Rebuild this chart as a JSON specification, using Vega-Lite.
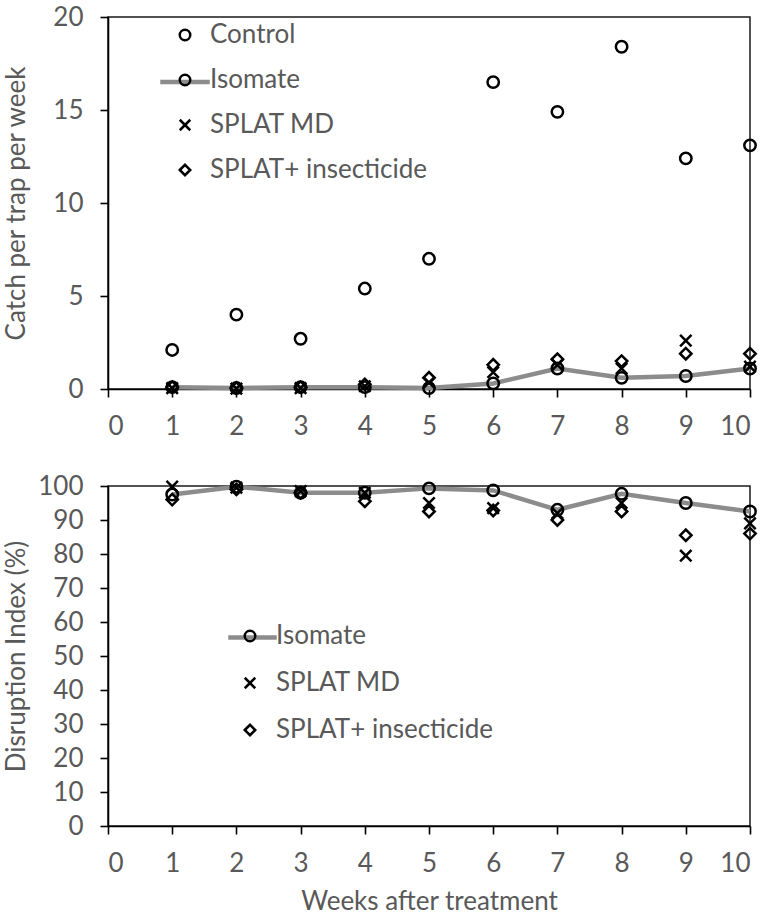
{
  "$schema": "https://vega.github.io/schema/vega-lite/v6.json",
  "background": "white",
  "padding": {"left": 2, "top": 3, "right": 0, "bottom": 0},
  "config": {
    "font": "Lato",
    "view": {"stroke": "#1a1a1a", "strokeWidth": 1.5},
    "axis": {"domainColor": "#000", "domainWidth": 1.6, "tickColor": "#000", "tickWidth": 1.6, "tickSize": 8, "labelFont": "Lato", "labelFontSize": 26, "labelColor": "#595959", "titleFont": "Lato", "titleFontSize": 26, "titleFontWeight": "normal", "titleColor": "#595959", "grid": false, "labelPadding": 10},
    "legend": {"labelFont": "Lato", "labelFontSize": 26, "labelColor": "#595959", "padding": 0, "labelLimit": 0}
  },
  "datasets": {
    "catch": [
      {"week": 1, "series": "Control", "value": 2.1}, {"week": 2, "series": "Control", "value": 4.0}, {"week": 3, "series": "Control", "value": 2.7}, {"week": 4, "series": "Control", "value": 5.4}, {"week": 5, "series": "Control", "value": 7.0}, {"week": 6, "series": "Control", "value": 16.5}, {"week": 7, "series": "Control", "value": 14.9}, {"week": 8, "series": "Control", "value": 18.4}, {"week": 9, "series": "Control", "value": 12.4}, {"week": 10, "series": "Control", "value": 13.1},
      {"week": 1, "series": "Isomate", "value": 0.1}, {"week": 2, "series": "Isomate", "value": 0.05}, {"week": 3, "series": "Isomate", "value": 0.1}, {"week": 4, "series": "Isomate", "value": 0.1}, {"week": 5, "series": "Isomate", "value": 0.05}, {"week": 6, "series": "Isomate", "value": 0.3}, {"week": 7, "series": "Isomate", "value": 1.1}, {"week": 8, "series": "Isomate", "value": 0.6}, {"week": 9, "series": "Isomate", "value": 0.7}, {"week": 10, "series": "Isomate", "value": 1.1},
      {"week": 1, "series": "SPLAT MD", "value": 0.05}, {"week": 2, "series": "SPLAT MD", "value": 0.02}, {"week": 3, "series": "SPLAT MD", "value": 0.05}, {"week": 4, "series": "SPLAT MD", "value": 0.15}, {"week": 5, "series": "SPLAT MD", "value": 0.35}, {"week": 6, "series": "SPLAT MD", "value": 0.9}, {"week": 7, "series": "SPLAT MD", "value": 1.3}, {"week": 8, "series": "SPLAT MD", "value": 1.1}, {"week": 9, "series": "SPLAT MD", "value": 2.6}, {"week": 10, "series": "SPLAT MD", "value": 1.2},
      {"week": 1, "series": "SPLAT+ insecticide", "value": 0.1}, {"week": 2, "series": "SPLAT+ insecticide", "value": 0.05}, {"week": 3, "series": "SPLAT+ insecticide", "value": 0.1}, {"week": 4, "series": "SPLAT+ insecticide", "value": 0.25}, {"week": 5, "series": "SPLAT+ insecticide", "value": 0.6}, {"week": 6, "series": "SPLAT+ insecticide", "value": 1.3}, {"week": 7, "series": "SPLAT+ insecticide", "value": 1.6}, {"week": 8, "series": "SPLAT+ insecticide", "value": 1.5}, {"week": 9, "series": "SPLAT+ insecticide", "value": 1.9}, {"week": 10, "series": "SPLAT+ insecticide", "value": 1.9}
    ],
    "di": [
      {"week": 1, "series": "Isomate", "value": 97.5}, {"week": 2, "series": "Isomate", "value": 99.8}, {"week": 3, "series": "Isomate", "value": 98}, {"week": 4, "series": "Isomate", "value": 98}, {"week": 5, "series": "Isomate", "value": 99.3}, {"week": 6, "series": "Isomate", "value": 98.7}, {"week": 7, "series": "Isomate", "value": 93}, {"week": 8, "series": "Isomate", "value": 97.7}, {"week": 9, "series": "Isomate", "value": 95}, {"week": 10, "series": "Isomate", "value": 92.5},
      {"week": 1, "series": "SPLAT MD", "value": 99.8}, {"week": 2, "series": "SPLAT MD", "value": 99.5}, {"week": 3, "series": "SPLAT MD", "value": 98.5}, {"week": 4, "series": "SPLAT MD", "value": 98}, {"week": 5, "series": "SPLAT MD", "value": 95}, {"week": 6, "series": "SPLAT MD", "value": 93.5}, {"week": 7, "series": "SPLAT MD", "value": 92}, {"week": 8, "series": "SPLAT MD", "value": 95}, {"week": 9, "series": "SPLAT MD", "value": 79.5}, {"week": 10, "series": "SPLAT MD", "value": 89},
      {"week": 1, "series": "SPLAT+ insecticide", "value": 96}, {"week": 2, "series": "SPLAT+ insecticide", "value": 99}, {"week": 3, "series": "SPLAT+ insecticide", "value": 98}, {"week": 4, "series": "SPLAT+ insecticide", "value": 95.5}, {"week": 5, "series": "SPLAT+ insecticide", "value": 92.5}, {"week": 6, "series": "SPLAT+ insecticide", "value": 92.8}, {"week": 7, "series": "SPLAT+ insecticide", "value": 90}, {"week": 8, "series": "SPLAT+ insecticide", "value": 92.5}, {"week": 9, "series": "SPLAT+ insecticide", "value": 85.5}, {"week": 10, "series": "SPLAT+ insecticide", "value": 86}
    ]
  },
  "spacing": 32,
  "resolve": {
    "scale": {"x": "independent", "y": "independent", "shape": "independent", "color": "independent"},
    "legend": {"shape": "independent", "color": "independent"}
  },
  "vconcat": [
    {
      "width": 642,
      "height": 372,
      "data": {"name": "catch"},
      "encoding": {
        "x": {"field": "week", "type": "quantitative", "scale": {"domain": [0, 10], "nice": false}, "axis": {"values": [0, 1, 2, 3, 4, 5, 6, 7, 8, 9, 10], "title": null, "labelAngle": 0, "labelPadding": 16}},
        "y": {"field": "value", "type": "quantitative", "scale": {"domain": [0, 20], "nice": false}, "axis": {"values": [0, 5, 10, 15, 20], "title": "Catch per trap per week", "titleX": -92, "titleBaseline": "middle", "labelPadding": 17}}
      },
      "layer": [
        {
          "transform": [{"filter": "datum.series === 'Isomate'"}],
          "mark": {"type": "line", "strokeWidth": 4.5},
          "encoding": {
            "color": {"field": "series", "type": "nominal", "scale": {"domain": ["Isomate"], "range": ["#8c8c8c"]},
              "legend": {"orient": "none", "legendX": 50, "legendY": 38, "title": null, "symbolType": "stroke", "symbolSize": 2450, "symbolStrokeWidth": 4.5, "labelExpr": "''"}}
          }
        },
        {
          "mark": {"type": "point", "filled": false, "color": "black", "opacity": 1, "strokeWidth": 2.5, "size": 130},
          "encoding": {
            "shape": {"field": "series", "type": "nominal",
              "scale": {"domain": ["Control", "Isomate", "SPLAT MD", "SPLAT+ insecticide"], "range": ["circle", "circle", "M-1,-1L1,1M-1,1L1,-1", "diamond"]},
              "legend": {"orient": "none", "legendX": 64, "legendY": 5, "title": null, "rowPadding": 19, "labelOffset": 12, "symbolStrokeColor": "black", "symbolStrokeWidth": 2.5, "symbolFillColor": "transparent", "symbolOpacity": 1, "symbolSize": 110}}
          }
        }
      ]
    },
    {
      "width": 642,
      "height": 340,
      "data": {"name": "di"},
      "encoding": {
        "x": {"field": "week", "type": "quantitative", "scale": {"domain": [0, 10], "nice": false}, "axis": {"values": [0, 1, 2, 3, 4, 5, 6, 7, 8, 9, 10], "title": "Weeks after treatment", "titlePadding": 12, "labelAngle": 0, "labelPadding": 16}},
        "y": {"field": "value", "type": "quantitative", "scale": {"domain": [0, 100], "nice": false}, "axis": {"values": [0, 10, 20, 30, 40, 50, 60, 70, 80, 90, 100], "title": "Disruption Index (%)", "titleX": -92, "titleBaseline": "middle", "labelPadding": 17}}
      },
      "layer": [
        {
          "transform": [{"filter": "datum.series === 'Isomate'"}],
          "mark": {"type": "line", "strokeWidth": 4.5},
          "encoding": {
            "color": {"field": "series", "type": "nominal", "scale": {"domain": ["Isomate"], "range": ["#8c8c8c"]},
              "legend": {"orient": "none", "legendX": 118, "legendY": 125, "title": null, "symbolType": "stroke", "symbolSize": 2350, "symbolStrokeWidth": 4.5, "labelExpr": "''"}}
          }
        },
        {
          "mark": {"type": "point", "filled": false, "color": "black", "opacity": 1, "strokeWidth": 2.5, "size": 130},
          "encoding": {
            "shape": {"field": "series", "type": "nominal",
              "scale": {"domain": ["Isomate", "SPLAT MD", "SPLAT+ insecticide"], "range": ["circle", "M-1,-1L1,1M-1,1L1,-1", "diamond"]},
              "legend": {"orient": "none", "legendX": 129, "legendY": 137, "title": null, "rowPadding": 21, "labelOffset": 13, "symbolStrokeColor": "black", "symbolStrokeWidth": 2.5, "symbolFillColor": "transparent", "symbolOpacity": 1, "symbolSize": 110}}
          }
        }
      ]
    }
  ]
}
